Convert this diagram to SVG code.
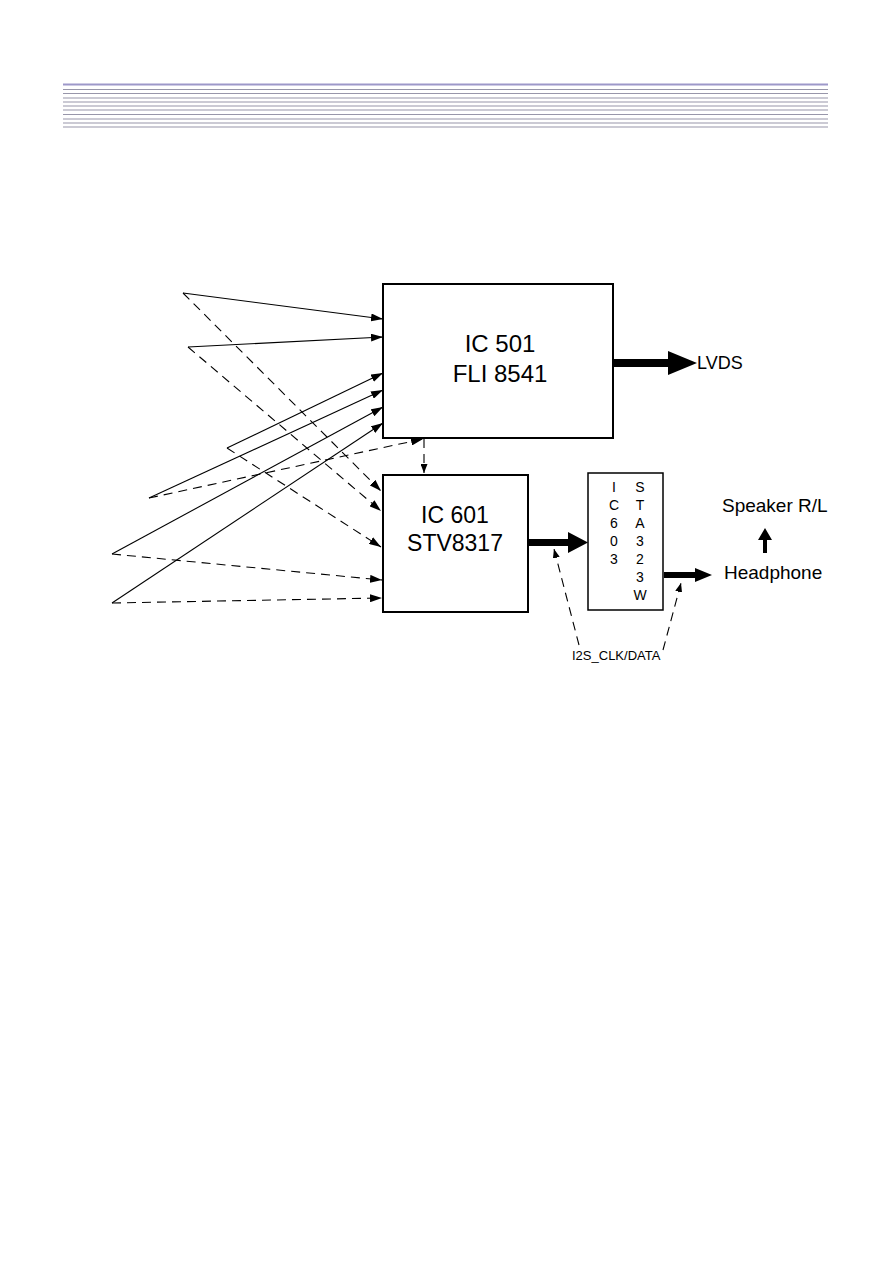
<svg xmlns="http://www.w3.org/2000/svg" width="893" height="1263" viewBox="0 0 893 1263">
<defs>
<style>
.hl{stroke:#9896aa;stroke-width:1.2}
.ln{fill:none;stroke:#000;stroke-width:1.1}
.ds{fill:none;stroke:#000;stroke-width:1.1;stroke-dasharray:9 6}
.box{fill:#fff;stroke:#000;stroke-width:2}
.t{font-family:"Liberation Sans",Arial,sans-serif;fill:#000}
</style>
<marker id="ah" viewBox="0 0 12 8" refX="12" refY="4" markerWidth="12" markerHeight="8" markerUnits="userSpaceOnUse" orient="auto">
<path d="M0,0 L12,4 L0,8 z" fill="#000"/>
</marker>
<marker id="ahs" viewBox="0 0 9 7" refX="9" refY="3.5" markerWidth="9" markerHeight="7" markerUnits="userSpaceOnUse" orient="auto">
<path d="M0,0 L9,3.5 L0,7 z" fill="#000"/>
</marker>
</defs>
<rect width="893" height="1263" fill="#fff"/>
<g id="header">
<line x1="63" y1="84.5" x2="828" y2="84.5" stroke="#9d98c9" stroke-width="2.2"/>
<line class="hl" x1="63" y1="89.5" x2="828" y2="89.5"/>
<line class="hl" x1="63" y1="93.5" x2="828" y2="93.5"/>
<line class="hl" x1="63" y1="98" x2="828" y2="98"/>
<line class="hl" x1="63" y1="102" x2="828" y2="102"/>
<line class="hl" x1="63" y1="106" x2="828" y2="106"/>
<line class="hl" x1="63" y1="110" x2="828" y2="110"/>
<line class="hl" x1="63" y1="114.5" x2="828" y2="114.5"/>
<line class="hl" x1="63" y1="119" x2="828" y2="119"/>
<line class="hl" x1="63" y1="123" x2="828" y2="123"/>
<line class="hl" x1="63" y1="127" x2="828" y2="127"/>
</g>
<g id="connectors">
<line class="ln" x1="183" y1="293" x2="383" y2="319" marker-end="url(#ah)"/>
<line class="ds" x1="183" y1="293" x2="381" y2="491" marker-end="url(#ah)"/>
<line class="ln" x1="188" y1="347" x2="383" y2="337" marker-end="url(#ah)"/>
<line class="ds" x1="188" y1="347" x2="381" y2="511" marker-end="url(#ah)"/>
<line class="ln" x1="227" y1="448" x2="383" y2="373" marker-end="url(#ah)"/>
<line class="ds" x1="227" y1="448" x2="381" y2="547" marker-end="url(#ah)"/>
<line class="ln" x1="149" y1="498" x2="383" y2="390" marker-end="url(#ah)"/>
<line class="ds" x1="149" y1="498" x2="423" y2="439" marker-end="url(#ah)"/>
<line class="ln" x1="112" y1="554" x2="383" y2="407" marker-end="url(#ah)"/>
<line class="ds" x1="112" y1="554" x2="382" y2="580" marker-end="url(#ah)"/>
<line class="ln" x1="112" y1="603" x2="383" y2="423" marker-end="url(#ah)"/>
<line class="ds" x1="112" y1="603" x2="382" y2="598" marker-end="url(#ah)"/>
<line class="ds" x1="424" y1="439" x2="424" y2="473" stroke-dasharray="5 4" marker-end="url(#ahs)"/>
<line class="ds" x1="579" y1="645" x2="554" y2="549" stroke-dasharray="7 6" marker-end="url(#ahs)"/>
<line class="ds" x1="663" y1="650" x2="681" y2="583" stroke-dasharray="7 6" marker-end="url(#ahs)"/>
<polygon points="613,359 668,359 668,351 697,363 668,375 668,367 613,367" fill="#000"/>
<polygon points="528,539 568,539 568,532 588,542.5 568,553 568,546 528,546" fill="#000"/>
<polygon points="664,572 695,572 695,568 712,575 695,582 695,578 664,578" fill="#000"/>
<polygon points="763,553 763,540 758,540 765,528 772,540 767,540 767,553" fill="#000"/>
</g>
<g id="ic501">
<rect class="box" x="383" y="284" width="230" height="154"/>
<text class="t" x="500" y="352" font-size="24" text-anchor="middle">IC 501</text>
<text class="t" x="500" y="382" font-size="24" text-anchor="middle">FLI 8541</text>
</g>
<g id="ic601">
<rect class="box" x="383" y="475" width="145" height="137"/>
<text class="t" x="455" y="523" font-size="23" text-anchor="middle">IC 601</text>
<text class="t" x="455" y="551" font-size="23" text-anchor="middle">STV8317</text>
</g>
<g id="ic603">
<rect x="588" y="473" width="75" height="137" fill="#fff" stroke="#000" stroke-width="1.5"/>
<g class="t" font-size="14" text-anchor="middle">
<text x="614" y="492">I</text>
<text x="614" y="510">C</text>
<text x="614" y="528">6</text>
<text x="614" y="546">0</text>
<text x="614" y="564">3</text>
<text x="640" y="492">S</text>
<text x="640" y="510">T</text>
<text x="640" y="528">A</text>
<text x="640" y="546">3</text>
<text x="640" y="564">2</text>
<text x="640" y="582">3</text>
<text x="640" y="600">W</text>
</g>
</g>
<g id="lvds"><text class="t" x="697" y="369" font-size="18">LVDS</text></g>
<g id="speaker"><text class="t" x="722" y="512" font-size="19">Speaker R/L</text></g>
<g id="headphone"><text class="t" x="724" y="579" font-size="19">Headphone</text></g>
<g id="i2s"><text class="t" x="572" y="660" font-size="13">I2S_CLK/DATA</text></g>
</svg>
